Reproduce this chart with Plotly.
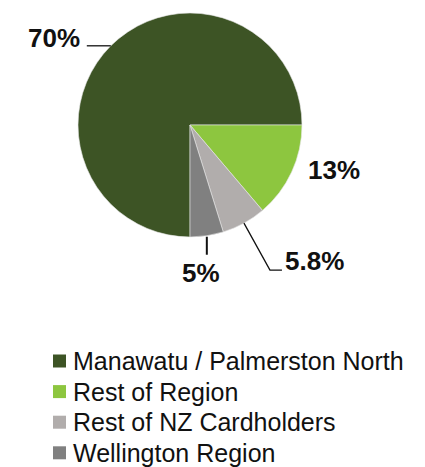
import math
import plotly.graph_objects as go

# ---- data ----
categories = ["Manawatu / Palmerston North", "Rest of Region",
              "Rest of NZ Cardholders", "Wellington Region"]
values = [75.0, 13.8, 6.4, 4.8]          # slice sizes as drawn
value_labels = ["70%", "13%", "5.8%", "5%"]  # printed labels
colors = ["#3d5425", "#8dc63f", "#b1adac", "#808080"]

# ---- geometry ----
W, H = 425, 467
cx, cy, r = 190, 125, 112


def px(x):
    return x / W


def py(y):
    return 1 - y / H


fig = go.Figure(go.Pie(
    labels=categories, values=values, sort=False,
    direction="clockwise", rotation=180,
    marker=dict(colors=colors, line=dict(color="#e6e6e6", width=0.6)),
    textinfo="none", hoverinfo="label+percent", showlegend=False,
    domain=dict(x=[px(cx - r), px(cx + r)], y=[py(cy + r), py(cy - r)]),
))

# mid angle of each slice (degrees clockwise from 12 o'clock)
total = sum(values)
start = 180.0
mids = []
for v in values:
    span = v / total * 360
    mids.append(start + span / 2)
    start += span


def edge(angle):
    a = math.radians(angle)
    return cx + r * math.sin(a), cy - r * math.cos(a)


lab_font = dict(family="Liberation Sans, Arial, sans-serif", size=26, color="#111111")
leg_font = dict(family="Liberation Sans, Arial, sans-serif", size=25, color="#111111")
line_style = dict(color="#111111", width=1.3)
shapes = []
annotations = []

# 70% : horizontal leader to the left
x0, y0 = edge(mids[0])
shapes.append(dict(type="line", xref="paper", yref="paper",
                   x0=px(x0), y0=py(y0), x1=px(x0 - 24), y1=py(y0), line=line_style))
annotations.append(dict(x=px(x0 - 29), y=py(y0 - 8), text="<b>%s</b>" % value_labels[0],
                        xanchor="right", yanchor="middle", font=lab_font))

# 13% : no leader
x1, y1 = edge(mids[1])
annotations.append(dict(x=px(x1 + 14), y=py(y1 - 2), text="<b>%s</b>" % value_labels[1],
                        xanchor="left", yanchor="middle", font=lab_font))

# 5.8% : diagonal + horizontal leader
x2, y2 = edge(mids[2])
shapes.append(dict(type="path", xref="paper", yref="paper",
                   path="M %f %f L %f %f L %f %f" % (px(x2), py(y2), px(x2 + 26), py(y2 + 47),
                                                     px(x2 + 38), py(y2 + 47)),
                   line=line_style))
annotations.append(dict(x=px(x2 + 39), y=py(y2 + 38), text="<b>%s</b>" % value_labels[2],
                        xanchor="left", yanchor="middle", font=lab_font))

# 5% : vertical leader
x3, y3 = edge(mids[3])
shapes.append(dict(type="line", xref="paper", yref="paper",
                   x0=px(x3), y0=py(y3 + 1), x1=px(x3), y1=py(y3 + 19),
                   line=dict(color="#111111", width=2)))
annotations.append(dict(x=px(x3 - 6), y=py(y3 + 37), text="<b>%s</b>" % value_labels[3],
                        xanchor="center", yanchor="middle", font=lab_font))

# legend (squares + labels), one row per category
leg_x, leg_y0, leg_dy, sq = 53, 361, 30.6, 13
for i, (name, col) in enumerate(zip(categories, colors)):
    yc = leg_y0 + i * leg_dy
    shapes.append(dict(type="rect", xref="paper", yref="paper",
                       x0=px(leg_x), x1=px(leg_x + sq), y0=py(yc - sq / 2), y1=py(yc + sq / 2),
                       fillcolor=col, line=dict(width=0)))
    annotations.append(dict(x=px(leg_x + sq + 5), y=py(yc), text=name,
                            xanchor="left", yanchor="middle", font=leg_font))

for a in annotations:
    a.update(xref="paper", yref="paper", showarrow=False)

fig.update_layout(
    width=W, height=H,
    margin=dict(l=0, r=0, t=0, b=0, autoexpand=False),
    paper_bgcolor="white", plot_bgcolor="white",
    shapes=shapes, annotations=annotations,
    showlegend=False,
)

fig.write_html("out.html", config={"displayModeBar": False},
               post_script="document.body.style.margin='0';")
